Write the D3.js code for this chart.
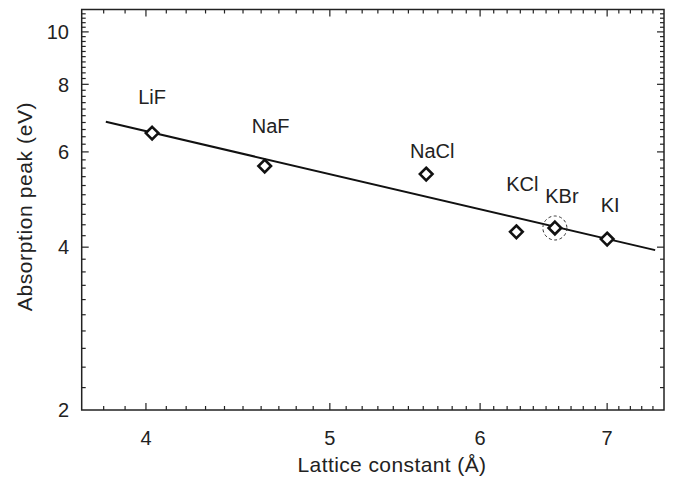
<!DOCTYPE html>
<html>
<head>
<meta charset="utf-8">
<script src="https://cdn.jsdelivr.net/npm/d3@7"></script>
<style>
  html, body { margin: 0; padding: 0; background: #fff; }
  svg { display: block; }
  text { font-family: "Liberation Sans", Arial, sans-serif; fill: #222; }
</style>
</head>
<body>
<svg id="chart" width="681" height="480"></svg>
<script>
// ---- data ----
const compounds = ["LiF", "NaF", "NaCl", "KCl", "KBr", "KI"];
const latticeConstants = [4.03, 4.62, 5.62, 6.27, 6.57, 7.00];
const absorptionPeaks = [6.50, 5.65, 5.46, 4.27, 4.34, 4.14];
const fitLattice = [3.81, 7.42];
const fitPeak = [6.82, 3.95];
const xTickValues = [4, 5, 6, 7];
const yTickValues = [2, 4, 6, 8, 10];
const highlighted = "KBr";

// ---- layout ----
const plot = { left: 81.7, right: 664, top: 9.5, bottom: 410 };
const labelOffsets = {
  LiF: [0, -29], NaF: [6, -33], NaCl: [6, -16],
  KCl: [6, -41], KBr: [7, -25], KI: [3, -27]
};

const svg = d3.select("#chart");
const x = d3.scaleLog().domain([3.7, 7.5]).range([plot.left, plot.right]);
const y = d3.scaleLog().domain([2, 11]).range([plot.bottom, plot.top]);

const xMinor = d3.range(37, 76).map(v => v / 10).filter(v => v > 3.7 && v < 7.5);
const yMinor = d3.range(10, 56).map(v => v / 5).filter(v => v > 2 && v < 11);
const isMajor = (v, arr) => arr.some(t => Math.abs(t - v) < 1e-9);

const fs = 20;
const axisColor = "#222";

function drawXTicks(yPos, dir) {
  svg.append("g").selectAll("line").data(xMinor).join("line")
    .attr("x1", d => x(d)).attr("x2", d => x(d))
    .attr("y1", yPos).attr("y2", d => yPos + dir * (isMajor(d, xTickValues) ? 7 : 4))
    .attr("stroke", axisColor).attr("stroke-width", 1.2);
}
function drawYTicks(xPos, dir) {
  svg.append("g").selectAll("line").data(yMinor).join("line")
    .attr("y1", d => y(d)).attr("y2", d => y(d))
    .attr("x1", xPos).attr("x2", d => xPos + dir * (isMajor(d, yTickValues) ? 7 : 4))
    .attr("stroke", axisColor).attr("stroke-width", 1.2);
}
drawXTicks(plot.bottom, -1);
drawXTicks(plot.top, 1);
drawYTicks(plot.left, 1);
drawYTicks(plot.right, -1);

// frame
svg.append("rect")
  .attr("x", plot.left).attr("y", plot.top)
  .attr("width", plot.right - plot.left).attr("height", plot.bottom - plot.top)
  .attr("fill", "none").attr("stroke", axisColor).attr("stroke-width", 1.5);

// tick labels
svg.append("g").selectAll("text").data(xTickValues).join("text")
  .attr("x", d => x(d)).attr("y", 445)
  .attr("text-anchor", "middle").attr("font-size", fs)
  .text(d => d);
svg.append("g").selectAll("text").data(yTickValues).join("text")
  .attr("x", 69).attr("y", d => y(d)).attr("dy", "0.36em")
  .attr("text-anchor", "end").attr("font-size", fs)
  .text(d => d);

// axis titles
svg.append("text")
  .attr("x", 392).attr("y", 472)
  .attr("text-anchor", "middle").attr("font-size", 21)
  .attr("letter-spacing", 0.4)
  .text("Lattice constant (Å)");
svg.append("text")
  .attr("transform", `translate(32,206.5) rotate(-90)`)
  .attr("text-anchor", "middle").attr("font-size", 21)
  .attr("letter-spacing", 0.6)
  .text("Absorption peak (eV)");

// fit line
const fitData = fitLattice.map((v, i) => [v, fitPeak[i]]);
svg.append("path")
  .datum(fitData)
  .attr("d", d3.line().x(d => x(d[0])).y(d => y(d[1])))
  .attr("fill", "none").attr("stroke", "#111").attr("stroke-width", 2);

// points
const pts = compounds.map((c, i) => ({ name: c, a: latticeConstants[i], e: absorptionPeaks[i] }));
const r = 6.3;
svg.append("g").selectAll("path").data(pts).join("path")
  .attr("d", d => {
    const cx = x(d.a), cy = y(d.e);
    return `M${cx},${cy - r}L${cx + r},${cy}L${cx},${cy + r}L${cx - r},${cy}Z`;
  })
  .attr("fill", "#fff").attr("stroke", "#111").attr("stroke-width", 2.6)
  .attr("stroke-linejoin", "miter");

// highlight circle
svg.append("g").selectAll("circle").data(pts.filter(d => d.name === highlighted)).join("circle")
  .attr("cx", d => x(d.a)).attr("cy", d => y(d.e)).attr("r", 12)
  .attr("fill", "none").attr("stroke", "#333").attr("stroke-width", 1)
  .attr("stroke-dasharray", "3,2.5");

// labels
svg.append("g").selectAll("text").data(pts).join("text")
  .attr("x", d => x(d.a) + labelOffsets[d.name][0])
  .attr("y", d => y(d.e) + labelOffsets[d.name][1])
  .attr("text-anchor", "middle").attr("font-size", fs)
  .text(d => d.name);
</script>
</body>
</html>
